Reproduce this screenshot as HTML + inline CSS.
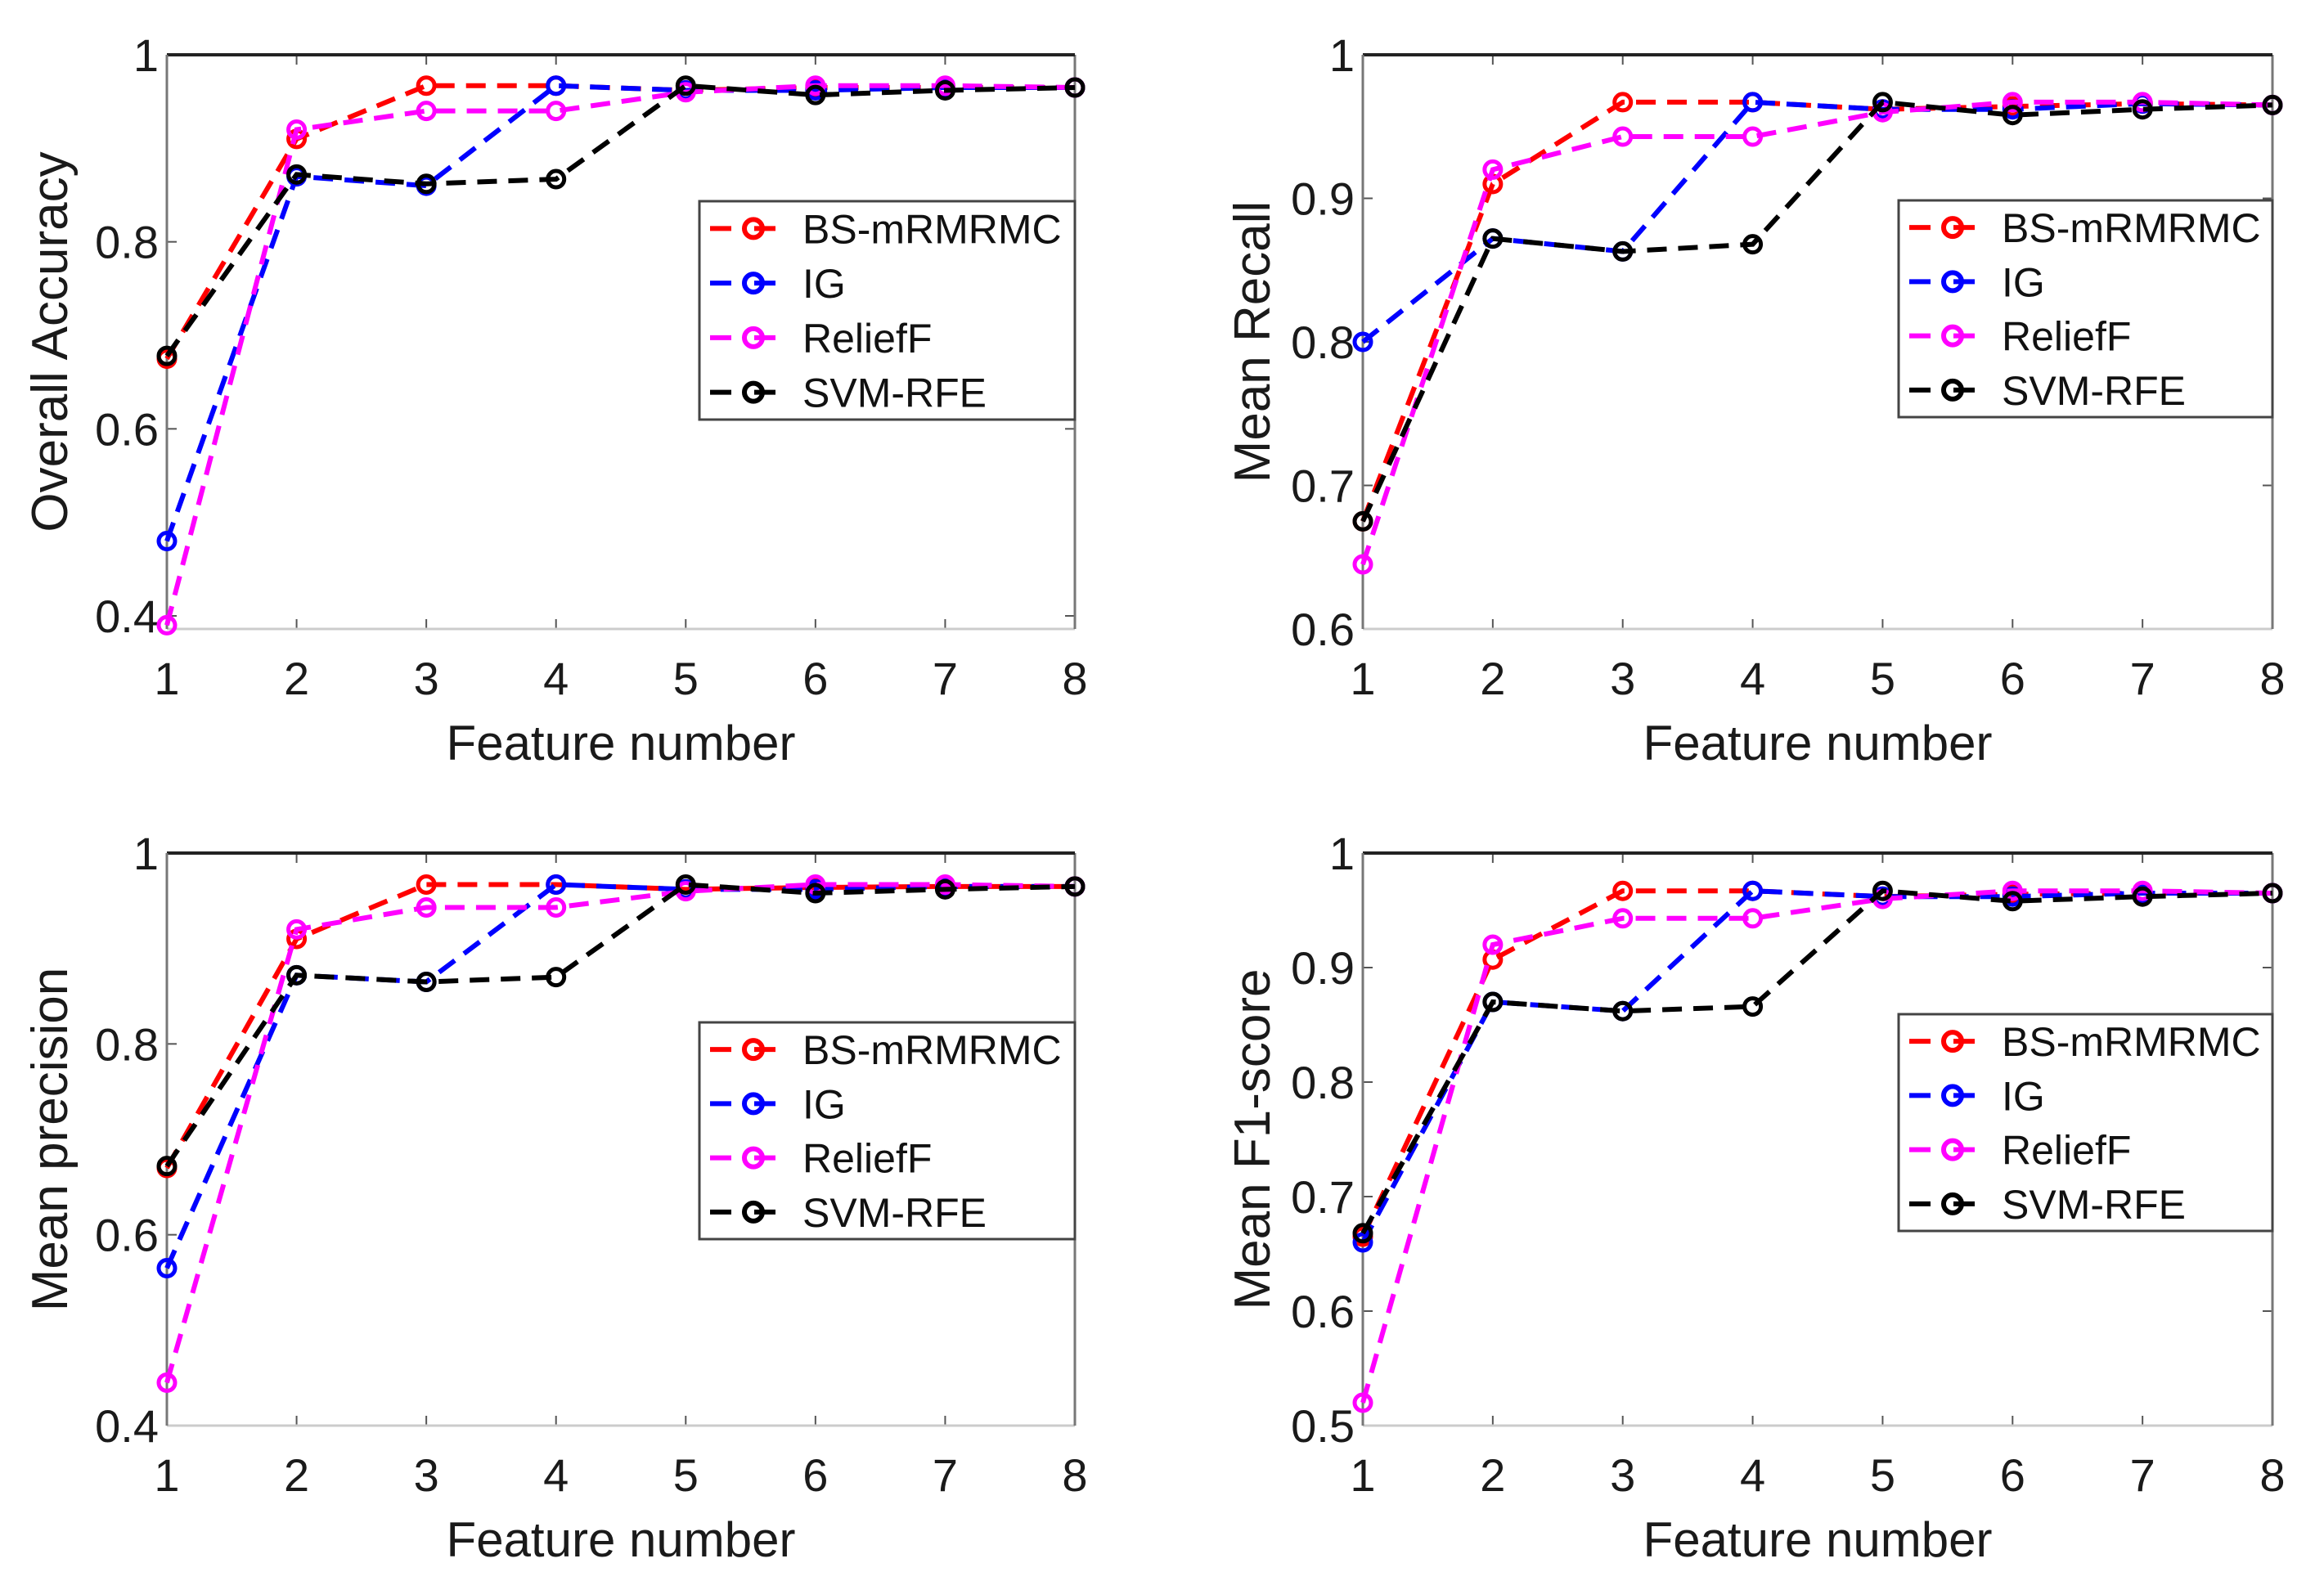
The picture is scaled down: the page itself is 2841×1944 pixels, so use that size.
<!DOCTYPE html>
<html><head><meta charset="utf-8"><style>
html,body{margin:0;padding:0;background:#fff}
svg{display:block}
text{font-family:"Liberation Sans",sans-serif}
</style></head><body>
<svg id="fig" width="2841" height="1944" viewBox="0 0 2841 1944" xmlns="http://www.w3.org/2000/svg"></svg>
<script>
const categories = [1,2,3,4,5,6,7,8];
const seriesNames = ["BS-mRMRMC","IG","ReliefF","SVM-RFE"];
const accBS = [0.675,0.91,0.967,0.967,0.962,0.965,0.965,0.965];
const accIG = [0.48,0.87,0.86,0.967,0.962,0.962,0.965,0.965];
const accRF = [0.39,0.92,0.94,0.94,0.96,0.967,0.967,0.965];
const accSV = [0.678,0.872,0.862,0.867,0.967,0.957,0.962,0.965];
const recBS = [0.675,0.91,0.967,0.967,0.962,0.964,0.966,0.965];
const recIG = [0.80,0.872,0.863,0.967,0.962,0.962,0.966,0.965];
const recRF = [0.645,0.92,0.943,0.943,0.96,0.967,0.967,0.965];
const recSV = [0.675,0.872,0.863,0.868,0.967,0.958,0.962,0.965];
const preBS = [0.67,0.91,0.967,0.967,0.962,0.964,0.965,0.965];
const preIG = [0.565,0.872,0.865,0.967,0.962,0.962,0.965,0.965];
const preRF = [0.445,0.92,0.943,0.943,0.96,0.967,0.967,0.965];
const preSV = [0.672,0.872,0.865,0.87,0.967,0.958,0.962,0.965];
const f1BS = [0.665,0.907,0.967,0.967,0.962,0.964,0.965,0.965];
const f1IG = [0.66,0.87,0.862,0.967,0.962,0.962,0.965,0.965];
const f1RF = [0.52,0.92,0.943,0.943,0.96,0.967,0.967,0.965];
const f1SV = [0.668,0.87,0.862,0.866,0.967,0.958,0.962,0.965];
const ticksAcc = ["0.4","0.6","0.8","1"];
const ticksRec = ["0.6","0.7","0.8","0.9","1"];
const ticksPre = ["0.4","0.6","0.8","1"];
const ticksF1 = ["0.5","0.6","0.7","0.8","0.9","1"];

const NS="http://www.w3.org/2000/svg";
const svg=document.getElementById('fig');
const colors=["#ff0000","#0000ff","#ff00ff","#000000"];
function mk(tag,attrs,parent){const e=document.createElementNS(NS,tag);for(const k in attrs)e.setAttribute(k,attrs[k]);(parent||svg).appendChild(e);return e;}

function panel(name,L,T,R,B,ymin,ymax,ticks,ylabel,series,legend,ylx){
  const g=mk('g',{});
  
  
  const xs=v=>L+(v-1)/7*(R-L);
  const ys=v=>B-(v-ymin)/(ymax-ymin)*(B-T);
  mk('rect',{x:L,y:T,width:R-L,height:B-T,fill:'#fff'},g);
  categories.forEach(c=>{
    const x=xs(c);
    mk('line',{x1:x,y1:B,x2:x,y2:B-12,stroke:'#555','stroke-width':2},g);
    mk('line',{x1:x,y1:T,x2:x,y2:T+12,stroke:'#555','stroke-width':2},g);
    const t=mk('text',{x:x,y:B+80,'font-size':56,'text-anchor':'middle',fill:'#1a1a1a'},g);
    t.textContent=c;
    
    
  });
  ticks.forEach(s=>{
    const y=ys(parseFloat(s));
    mk('line',{x1:L,y1:y,x2:L+12,y2:y,stroke:'#555','stroke-width':2},g);
    mk('line',{x1:R,y1:y,x2:R-12,y2:y,stroke:'#555','stroke-width':2},g);
    const t=mk('text',{x:L-10,y:y+20,'font-size':56,'text-anchor':'end',fill:'#1a1a1a'},g);
    t.textContent=s;
    
    
  });
  mk('line',{x1:L,y1:B,x2:R,y2:B,stroke:'#ccc','stroke-width':3},g);
  mk('line',{x1:R,y1:T,x2:R,y2:B,stroke:'#777','stroke-width':3},g);
  mk('line',{x1:L,y1:T,x2:R,y2:T,stroke:'#222','stroke-width':4},g);
  mk('line',{x1:L,y1:T,x2:L,y2:B,stroke:'#777','stroke-width':3},g);
  series.forEach((vals,i)=>{
    const pts=categories.map((c,j)=>xs(c)+','+ys(vals[j])).join(' ');
    const pl=mk('polyline',{points:pts,fill:'none',stroke:colors[i],'stroke-width':6,'stroke-dasharray':'24 14'},g);
    
    
    categories.forEach((c,j)=>{
      const m=mk('circle',{cx:xs(c),cy:ys(vals[j]),r:10,fill:'none',stroke:colors[i],'stroke-width':5},g);
      
      
    });
  });
  const xt=mk('text',{x:(L+R)/2,y:B+160,'font-size':60,'text-anchor':'middle',fill:'#1a1a1a'},g);
  xt.textContent='Feature number';
  
  
  const cy=(T+B)/2;
  const yt=mk('text',{x:ylx,y:cy,'font-size':62,'text-anchor':'middle',fill:'#1a1a1a',transform:'rotate(-90 '+ylx+' '+cy+')'},g);
  yt.textContent=ylabel;
  
  
  const lg=mk('g',{},g);
  
  
  mk('rect',{x:legend[0],y:legend[1],width:R-legend[0],height:legend[2]-legend[1],fill:'#fff',stroke:'#444','stroke-width':3},lg);
  const rh=(legend[2]-legend[1])/4;
  seriesNames.forEach((n,i)=>{
    const y=legend[1]+rh*(i+0.5);
    const x0=legend[0];
    const e=mk('g',{},lg);
    
    
    mk('line',{x1:x0+13,y1:y,x2:x0+96,y2:y,stroke:colors[i],'stroke-width':6,'stroke-dasharray':'26 28'},e);
    mk('circle',{cx:x0+66,cy:y,r:11,fill:'none',stroke:colors[i],'stroke-width':6},e);
    const t=mk('text',{x:x0+126,y:y+18,'font-size':50,fill:'#111'},e);
    t.textContent=n;
  });
}
panel('panel-overall-accuracy',204,67,1314,769,0.386,1,ticksAcc,'Overall Accuracy',[accBS,accIG,accRF,accSV],[855,246,513],82);
panel('panel-mean-recall',1666,67,2778,769,0.6,1,ticksRec,'Mean Recall',[recBS,recIG,recRF,recSV],[2321,245,510],1552);
panel('panel-mean-precision',204,1043,1314,1743,0.4,1,ticksPre,'Mean precision',[preBS,preIG,preRF,preSV],[855,1250,1515],82);
panel('panel-mean-f1',1666,1043,2778,1743,0.5,1,ticksF1,'Mean F1-score',[f1BS,f1IG,f1RF,f1SV],[2321,1240,1505],1552);
</script>
</body></html>
